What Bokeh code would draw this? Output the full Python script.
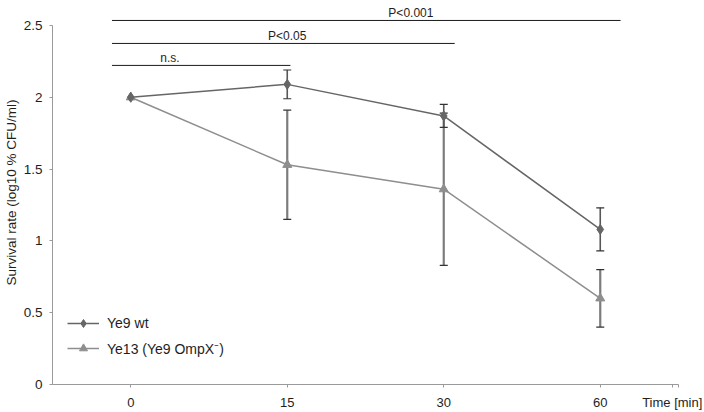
from bokeh.plotting import figure
from bokeh.models import (ColumnDataSource, Whisker, TeeHead, Legend, LegendItem,
                          FixedTicker, Range1d)
from bokeh.embed import file_html
from bokeh.resources import INLINE
from bokeh.core.properties import value

# ---- data ----
time_labels = ["0", "15", "30", "60"]
x_title = "Time [min]"
wt_mean = [2.0, 2.09, 1.87, 1.08]
wt_err = [0.0, 0.10, 0.08, 0.15]
mut_mean = [2.0, 1.53, 1.36, 0.60]
mut_err = [0.0, 0.38, 0.53, 0.20]
series_names = ["Ye9 wt", "Ye13 (Ye9 OmpX\u207b)"]

sig_labels = ["n.s.", "P<0.05", "P<0.001"]
sig_start = [-0.12, -0.12, -0.12]
sig_end = [1.02, 2.07, 3.13]
sig_level = [2.222, 2.375, 2.535]
sig_text_x = [0.25, 1.0, 1.79]

y_ticks = [0, 0.5, 1, 1.5, 2, 2.5]

FONT = "Liberation Sans"
WT_COL = "#666666"
MUT_COL = "#8e8e8e"
AX_COL = "#9a9a9a"
TXT = "#1e1e1e"

idx = list(range(len(time_labels)))
x_end = len(time_labels) - 0.5
x_title_pos = x_end - 0.04

p = figure(width=704, height=412, output_backend="svg", toolbar_location=None,
           x_range=Range1d(-0.5, x_end), y_range=Range1d(0, 2.674),
           min_border_left=50, min_border_right=26, min_border_top=0, min_border_bottom=28)
p.outline_line_color = None
p.xgrid.visible = False
p.ygrid.visible = False

# axes
xa = p.xaxis[0]
xa.ticker = FixedTicker(ticks=idx + [x_title_pos, x_end])
ov = {i: t for i, t in enumerate(time_labels)}
ov[x_title_pos] = x_title
ov[x_end] = ""
xa.major_label_overrides = ov
xa.axis_line_color = AX_COL
xa.major_tick_line_color = AX_COL
xa.major_tick_in = 0
xa.major_tick_out = 3
xa.minor_tick_line_color = None
xa.major_label_text_font = FONT
xa.major_label_text_font_size = "13px"
xa.major_label_text_color = TXT
xa.major_label_standoff = 7

ya = p.yaxis[0]
ya.ticker = FixedTicker(ticks=y_ticks)
ya.bounds = (0, 2.5)
ya.major_label_overrides = {t: ("%g" % t) for t in y_ticks}
ya.axis_line_color = AX_COL
ya.major_tick_line_color = AX_COL
ya.major_tick_in = 0
ya.major_tick_out = 3
ya.minor_tick_line_color = None
ya.major_label_text_font = FONT
ya.major_label_text_font_size = "13.5px"
ya.major_label_text_color = TXT
ya.major_label_standoff = 7
ya.axis_label = "Survival rate (log10 % CFU/ml)"
ya.axis_label_text_font = FONT
ya.axis_label_text_font_size = "13.5px"
ya.axis_label_text_font_style = "normal"
ya.axis_label_text_color = TXT
ya.axis_label_standoff = 2

# error bars
def err_source(mean, err):
    xs = [i for i, e in zip(idx, err) if e > 0]
    up = [m + e for m, e in zip(mean, err) if e > 0]
    lo = [m - e for m, e in zip(mean, err) if e > 0]
    return ColumnDataSource(dict(x=xs, upper=up, lower=lo))

for mean, err, col, lw in [(mut_mean, mut_err, "#7c7c7c", 2.2), (wt_mean, wt_err, "#585858", 1.6)]:
    w = Whisker(source=err_source(mean, err), base="x", upper="upper", lower="lower",
                line_color=col, line_width=lw, level="underlay",
                upper_head=TeeHead(size=8, line_color="#333333", line_width=1.2),
                lower_head=TeeHead(size=8, line_color="#333333", line_width=1.2))
    p.add_layout(w)

src = ColumnDataSource(dict(x=idx, wt=wt_mean, mut=mut_mean))
l_mut = p.line("x", "mut", source=src, line_color=MUT_COL, line_width=1.5)
m_mut = p.scatter("x", "mut", source=src, marker="triangle", size=9,
                  fill_color=MUT_COL, line_color=MUT_COL)
l_wt = p.line("x", "wt", source=src, line_color=WT_COL, line_width=1.5)
m_wt = p.scatter("x", "wt", source=src, marker="diamond", size=10,
                 fill_color=WT_COL, line_color=WT_COL)

# significance brackets
sig_src = ColumnDataSource(dict(x0=sig_start, x1=sig_end, y=sig_level,
                                tx=sig_text_x, ty=[v + 0.05 for v in sig_level],
                                label=sig_labels))
p.segment(x0="x0", y0="y", x1="x1", y1="y", source=sig_src, line_color="#1a1a1a", line_width=1)
p.text(x="tx", y="ty", text="label", source=sig_src, text_align="center",
       text_baseline="alphabetic", text_font=value(FONT), text_font_size="12px",
       text_color=TXT)

legend = Legend(items=[LegendItem(label=series_names[0], renderers=[l_wt, m_wt]),
                       LegendItem(label=series_names[1], renderers=[l_mut, m_mut])],
                location=(15, 26), border_line_color=None, background_fill_alpha=0,
                label_text_font=FONT, label_text_font_size="14px", label_text_color=TXT,
                glyph_width=32, glyph_height=20, label_height=20, spacing=5, padding=5,
                label_standoff=8)
p.add_layout(legend)

open("out.html", "w").write(file_html(p, INLINE))
